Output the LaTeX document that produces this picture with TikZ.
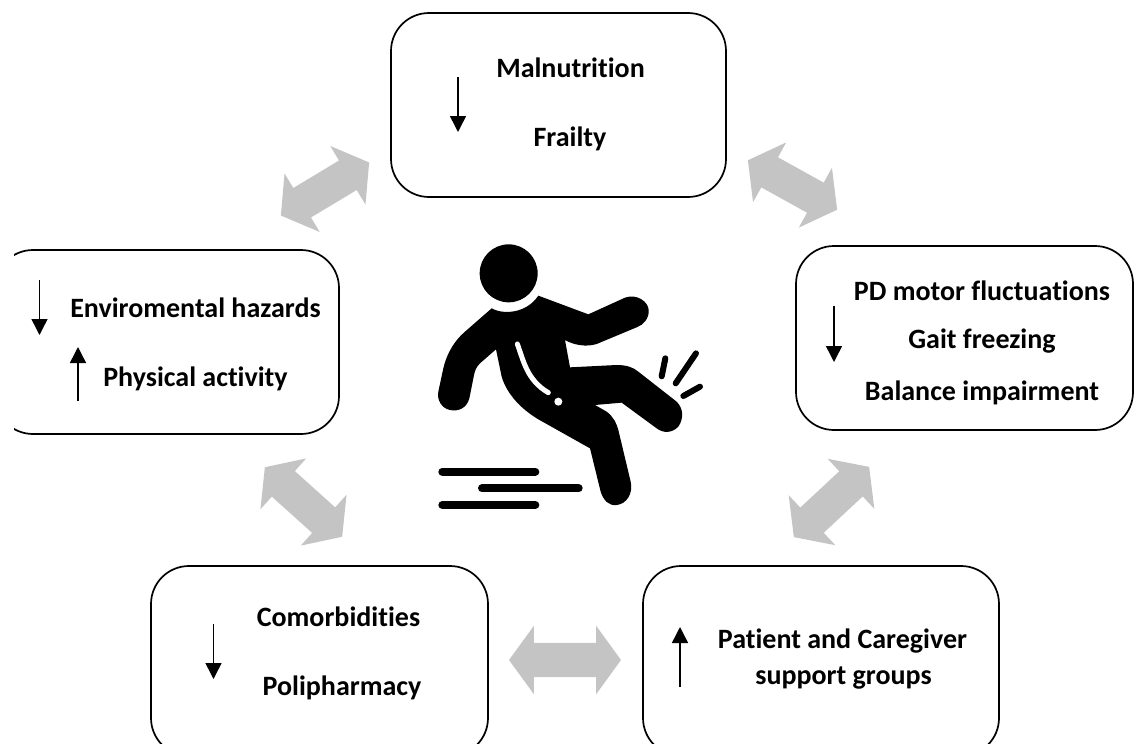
\documentclass[tikz,border=0pt]{standalone}
\usepackage{fontspec}
\setmainfont{Carlito}[Ligatures=NoCommon]
\usetikzlibrary{arrows.meta,shapes.arrows}
\definecolor{linkgray}{RGB}{196,196,196}
\tikzset{
  box/.style={draw=black,line width=1.7pt,rounded corners=38pt,fill=none,inner sep=0pt,outer sep=0pt,anchor=north west},
  lbl/.style={font=\fontsize{28}{32}\bfseries\selectfont,anchor=base,inner sep=0pt,outer sep=0pt,text=black},
  trend/.style={draw=black,line width=1.5pt,-{Triangle[width=16pt,length=16pt]}},
  link/.style={double arrow,draw=none,fill=linkgray,inner xsep=0pt,inner ysep=17pt,outer sep=0pt,
    double arrow head extend=17pt,double arrow tip angle=108},
  figfill/.style={fill=black,draw=none},
  figbar/.style={draw=black,line cap=round}
}
\begin{document}
\begin{tikzpicture}[x=1pt,y=-1pt]
\useasboundingbox (0,0) rectangle (1135,744);
% boxes
\node[box,minimum width=335pt,minimum height=184pt] (top) at (391,13) {};
\node[box,minimum width=337pt,minimum height=184pt] (right) at (796,246) {};
\node[box,minimum width=337pt,minimum height=190pt] (bl) at (151,566) {};
\node[box,minimum width=356pt,minimum height=190pt] (br) at (643,566) {};
\begin{scope}
\clip (14,240) rectangle (360,440);
\node[box,minimum width=344pt,minimum height=184pt] (left) at (-5,250) {};
\end{scope}
% labels
\node[lbl] (t1) at (570.5,77.5) {Malnutrition};
\node[lbl] (t2) at (570,146) {Frailty};
\node[lbl] (l1) at (195.5,317) {Enviromental hazards};
\node[lbl] (l2) at (195.5,386) {Physical activity};
\node[lbl] (r1) at (982,300) {PD motor fluctuations};
\node[lbl] (r2) at (982,348) {Gait freezing};
\node[lbl] (r3) at (982,400) {Balance impairment};
\node[lbl] (b1) at (338.5,626) {Comorbidities};
\node[lbl] (b2) at (342,695) {Polipharmacy};
\node[lbl] (c1) at (842.5,648) {Patient and Caregiver};
\node[lbl] (c2) at (843.5,684) {support groups};
% trend arrows
\coordinate (a1s) at (458,77);  \coordinate (a1e) at (458,132);
\coordinate (a2s) at (39.5,280); \coordinate (a2e) at (39.5,335);
\coordinate (a3s) at (78,401);  \coordinate (a3e) at (78,347);
\coordinate (a4s) at (834,306); \coordinate (a4e) at (834,362);
\coordinate (a5s) at (213.5,624); \coordinate (a5e) at (213.5,679);
\coordinate (a6s) at (680,687); \coordinate (a6e) at (680,627);
\foreach \n in {1,...,6} \draw[trend] (a\n s) -- (a\n e);
% block connectors
\node[link,minimum height=103pt,rotate=31] (lk1) at (325,189) {};
\node[link,minimum height=102pt,rotate=-29] (lk2) at (792.5,185) {};
\node[link,minimum height=103pt,rotate=43] (lk3) at (831.5,502) {};
\node[link,minimum height=104pt,rotate=-42] (lk4) at (303.5,502) {};
\node[link,minimum height=112pt] (lk5) at (565,660) {};
% falling figure
\begin{scope}[shift={(420,230)},x=0.33333pt,y=-0.33333pt]
\fill[figfill] (266,130) circle (87);
\fill[figfill] (215,235) .. controls (250,255) and (320,250) .. (355,197)
 -- (505,253) -- (615,203) .. controls (650,190) and (685,215) .. (686,240)
 .. controls (688,265) and (670,285) .. (650,292) -- (530,342)
 .. controls (500,352) and (460,345) .. (435,330) -- (450,412) -- (590,405)
 .. controls (620,405) and (640,412) .. (655,425) -- (770,515)
 .. controls (790,535) and (792,565) .. (775,590)
 .. controls (755,610) and (730,610) .. (710,595) -- (605,518) -- (525,525) -- (560,545)
 .. controls (580,560) and (590,580) .. (595,600) -- (632,755)
 .. controls (640,790) and (620,822) .. (590,825)
 .. controls (565,828) and (550,810) .. (542,785) -- (510,655) -- (355,568)
 .. controls (300,535) and (260,490) .. (245,440) -- (228,358) -- (180,400)
 .. controls (170,410) and (165,420) .. (162,435) -- (148,505)
 .. controls (140,535) and (115,545) .. (90,540)
 .. controls (65,535) and (50,510) .. (55,485) -- (70,415)
 .. controls (80,370) and (105,330) .. (135,305) -- cycle;
\draw[white,line width=5pt,line cap=round] (292,342) .. controls (310,390) and (320,450) .. (385,488);
\fill[white] (415,515) circle (12);
\draw[figbar,line width=6pt] (736,385) -- (725,439);
\draw[figbar,line width=6pt] (828,370) -- (767,460);
\draw[figbar,line width=6pt] (840,470) -- (790,498);
\draw[figbar,line width=8pt] (67,725) -- (346,725);
\draw[figbar,line width=8pt] (186,775) -- (476,775);
\draw[figbar,line width=8pt] (67,825) -- (346,825);
\end{scope}
\end{tikzpicture}
\end{document}
